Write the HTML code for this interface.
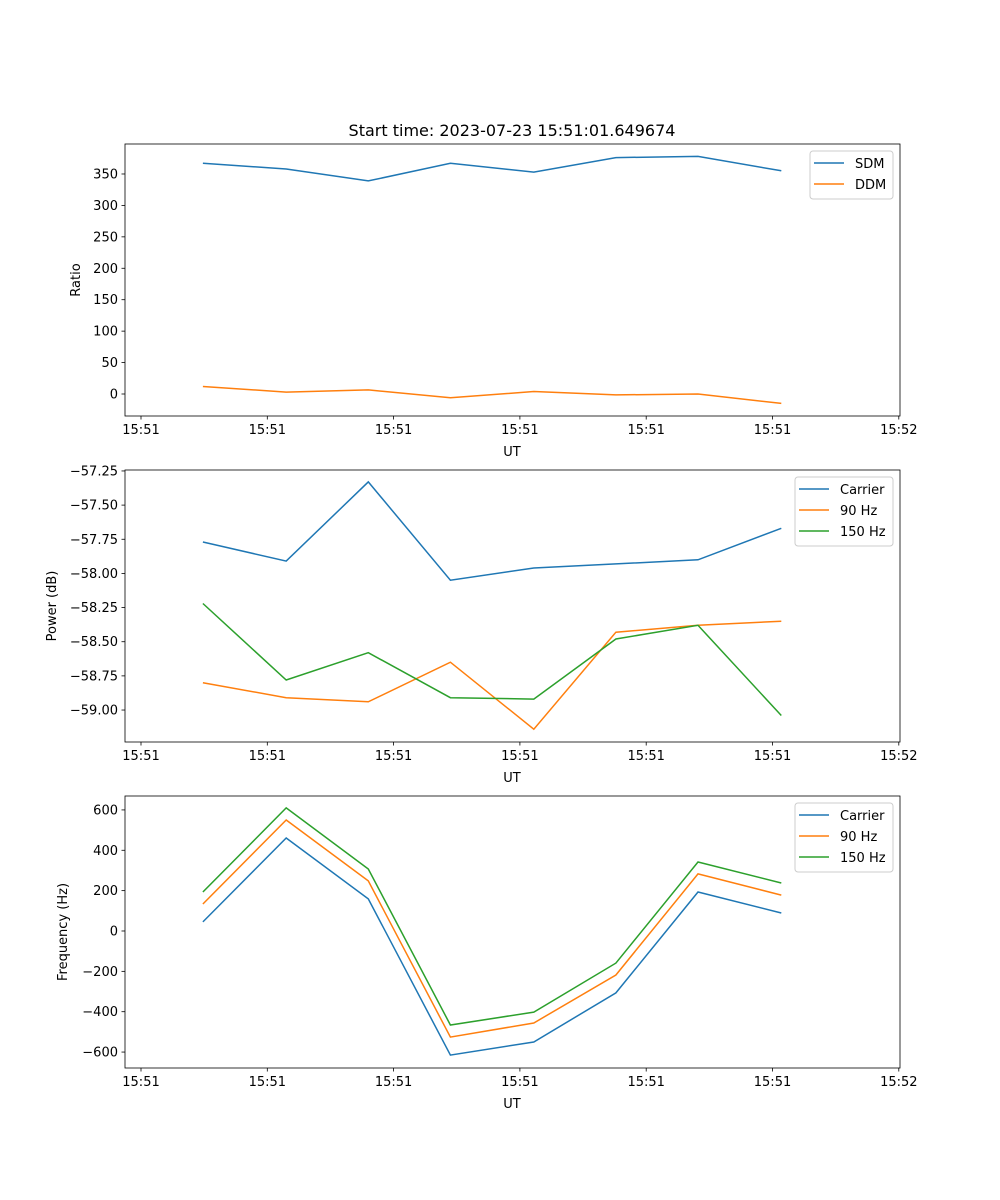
<!DOCTYPE html>
<html><head><meta charset="utf-8"><style>
html,body{margin:0;padding:0;background:#fff}
svg{display:block;font-family:"DejaVu Sans","Liberation Sans",sans-serif}
</style></head><body>
<svg id="fig" width="1000" height="1200" viewBox="0 0 1000 1200" xmlns="http://www.w3.org/2000/svg">
<rect width="1000" height="1200" fill="#fff"/>
<text x="512" y="136" font-size="16" text-anchor="middle">Start time: 2023-07-23 15:51:01.649674</text>
</svg>
<script>
const xVals = [0.49, 1.15, 1.80, 2.45, 3.11, 3.76, 4.41, 5.07];
const xTickVals = [0, 1, 2, 3, 4, 5, 6];
const xTickLabels = ["15:51","15:51","15:51","15:51","15:51","15:51","15:52"];
const sdm = [367, 358, 339, 367, 353, 376, 378, 355];
const ddm = [12, 3, 6.5, -6, 4, -1.5, 0, -15];
const ratioTicks = [0, 50, 100, 150, 200, 250, 300, 350];
const powCarrier = [-57.77, -57.91, -57.33, -58.05, -57.96, -57.93, -57.90, -57.67];
const pow90 = [-58.80, -58.91, -58.94, -58.65, -59.14, -58.43, -58.38, -58.35];
const pow150 = [-58.22, -58.78, -58.58, -58.91, -58.92, -58.48, -58.38, -59.04];
const powTicks = [-59.0, -58.75, -58.5, -58.25, -58.0, -57.75, -57.5, -57.25];
const freqCarrier = [45, 461, 159, -615, -550, -307, 193, 89];
const freq90 = [134, 550, 248, -526, -456, -218, 283, 178];
const freq150 = [193, 610, 307, -466, -402, -159, 342, 238];
const freqTicks = [-600, -400, -200, 0, 200, 400, 600];

const NS = "http://www.w3.org/2000/svg";
const svg = document.getElementById('fig');
function el(tag, attrs, parent){const e=document.createElementNS(NS,tag);for(const k in attrs)e.setAttribute(k,attrs[k]);(parent||svg).appendChild(e);return e;}
const L=125,R=900;
const xs = v => 141 + v*126.3;
const C = {blue:"#1f77b4",orange:"#ff7f0e",green:"#2ca02c"};

function panel(name, top, ymin, ymax, ticks, fmt, ylabel, series, legend){
  const bot = top+272;
  const ys = v => bot - (v-ymin)/(ymax-ymin)*272;
  const g = el('g',{});
  
  
  series.forEach(s=>{
    const p = el('polyline',{points:s.data.map((v,i)=>xs(xVals[i]).toFixed(1)+','+ys(v).toFixed(1)).join(' '),fill:'none',stroke:s.color,'stroke-width':1.5},g);
    
    
  });
  const fr = el('rect',{x:L,y:top,width:R-L,height:272,fill:'none',stroke:'#000','stroke-width':0.8},g);
  
  
  xTickVals.forEach((v,i)=>{
    const x=xs(v);
    el('line',{x1:x,x2:x,y1:bot,y2:bot+3.5,stroke:'#000','stroke-width':0.8},g);
    const t=el('text',{x:x,y:bot+18,'font-size':13,'text-anchor':'middle'},g);
    t.textContent=xTickLabels[i];
    
    
  });
  ticks.forEach(v=>{
    const y=ys(v);
    el('line',{x1:L-3.5,x2:L,y1:y,y2:y,stroke:'#000','stroke-width':0.8},g);
    const t=el('text',{x:L-7,y:y+4.5,'font-size':13,'text-anchor':'end'},g);
    t.textContent=fmt(v);
    
    
  });
  const xl=el('text',{x:512,y:bot+40,'font-size':13,'text-anchor':'middle'},g);
  xl.textContent='UT';
  
  
  const yl=el('text',{x:0,y:0,'font-size':13,'text-anchor':'middle',transform:`translate(${legend.ylx},${top+136}) rotate(-90)`},g);
  yl.textContent=ylabel;
  
  
  const lg=el('g',{},g);
  
  
  const h=series.length*21+6;
  el('rect',{x:legend.x,y:top+7,width:893-legend.x,height:h,rx:3,fill:'#fff','fill-opacity':0.8,stroke:'#ccc','stroke-width':1},lg);
  series.forEach((s,i)=>{
    const y=top+19+i*21;
    el('line',{x1:legend.x+4,x2:legend.x+34,y1:y,y2:y,stroke:s.color,'stroke-width':1.5},lg);
    const t=el('text',{x:legend.x+45,y:y+5,'font-size':13},lg);
    t.textContent=s.label;
    
    
  });
}
panel('ratio',144,-35,397.7,ratioTicks,v=>String(v),'Ratio',
  [{key:'sdm',label:'SDM',data:sdm,color:C.blue},{key:'ddm',label:'DDM',data:ddm,color:C.orange}],{x:810,ylx:80});
panel('power',470,-59.234,-57.243,powTicks,v=>'\u2212'+Math.abs(v).toFixed(2),'Power (dB)',
  [{key:'carrier',label:'Carrier',data:powCarrier,color:C.blue},{key:'90hz',label:'90 Hz',data:pow90,color:C.orange},{key:'150hz',label:'150 Hz',data:pow150,color:C.green}],{x:795,ylx:56});
panel('frequency',796,-679,669,freqTicks,v=>(v<0?'\u2212':'')+Math.abs(v),'Frequency (Hz)',
  [{key:'carrier',label:'Carrier',data:freqCarrier,color:C.blue},{key:'90hz',label:'90 Hz',data:freq90,color:C.orange},{key:'150hz',label:'150 Hz',data:freq150,color:C.green}],{x:795,ylx:67});
</script>
</body></html>
